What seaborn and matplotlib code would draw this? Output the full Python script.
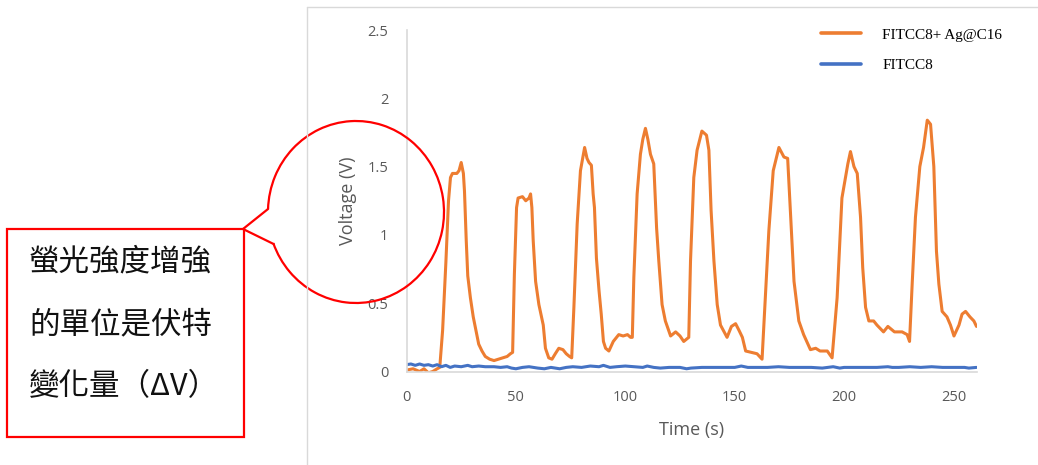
import numpy as np
import pandas as pd
import matplotlib
matplotlib.use("Agg")
import matplotlib.pyplot as plt
import seaborn as sns
from matplotlib.patches import Arc, Rectangle
from matplotlib.lines import Line2D
from matplotlib.ticker import FuncFormatter

# ---- data -------------------------------------------------------------
series_labels = ["FITCC8+ Ag@C16", "FITCC8"]
series_colors = ["#ED7D31", "#4472C4"]

time_ag = [0, 3, 6, 8, 10, 12, 14, 15.2, 16.5, 18, 19.2, 20.1, 21, 23, 24, 25, 26,
           26.5, 27.3, 28, 29.2, 30.5, 31.5, 33, 34.5, 36, 38, 40, 42, 44, 46, 47.5,
           48.5, 49.3, 50.3, 51, 53, 54.5, 56, 56.7, 57.3, 57.9, 59, 60.5, 62.5, 63.5,
           65, 66.5, 68, 69.6, 71.5, 73, 74.5, 75.5, 76.5, 78, 79.5, 81.4, 82.5, 83.4,
           84.5, 85.3, 85.9, 86.8, 88, 89, 90, 91, 92.5, 94.5, 97, 99, 101, 102.4,
           103.2, 103.9, 105.4, 106.9, 108, 109.2, 110.3, 111.5, 113, 113.6, 114.3,
           115.3, 116.8, 118.3, 120.7, 123, 125, 126.7, 129, 129.8, 131.3, 132.8, 135,
           137.1, 138.2, 139.2, 140.5, 142, 143.5, 146.5, 148.5, 150.4, 152, 153.5,
           155, 157.5, 160.2, 162.5, 163.6, 165.6, 167.6, 170.2, 172.5, 174.2, 175.5,
           177.1, 179.3, 181.5, 184.6, 187, 189, 192.3, 194.5, 196.8, 199, 200.6,
           201.7, 202.9, 204.5, 206, 207.5, 208.5, 209.8, 211.3, 213.5, 215, 218, 220,
           223, 226.5, 228.8, 229.9, 231.1, 232.6, 234.6, 236.3, 238, 239.5, 241,
           242.2, 243.3, 244.8, 247, 248.6, 250.2, 252.5, 253.9, 255.5, 257.5, 259.3,
           260.5]
voltage_ag = [0.01, 0.02, 0.0, 0.02, -0.01, 0.0, 0.02, 0.03, 0.3, 0.8, 1.25, 1.42,
              1.45, 1.45, 1.47, 1.53, 1.45, 1.32, 0.96, 0.7, 0.54, 0.40, 0.32, 0.20,
              0.15, 0.11, 0.09, 0.08, 0.09, 0.10, 0.11, 0.13, 0.14, 0.71, 1.2, 1.27,
              1.28, 1.25, 1.27, 1.30, 1.2, 0.96, 0.66, 0.49, 0.34, 0.17, 0.10, 0.09,
              0.13, 0.17, 0.16, 0.13, 0.11, 0.10, 0.47, 1.08, 1.47, 1.64, 1.56, 1.53,
              1.51, 1.3, 1.20, 0.83, 0.59, 0.42, 0.22, 0.17, 0.15, 0.22, 0.27, 0.26,
              0.27, 0.25, 0.25, 0.69, 1.30, 1.59, 1.70, 1.78, 1.70, 1.59, 1.52, 1.3,
              1.05, 0.81, 0.49, 0.37, 0.26, 0.29, 0.26, 0.22, 0.25, 0.81, 1.42, 1.62,
              1.76, 1.73, 1.62, 1.18, 0.81, 0.49, 0.34, 0.25, 0.33, 0.35, 0.30, 0.25,
              0.15, 0.14, 0.13, 0.09, 0.42, 1.03, 1.47, 1.64, 1.57, 1.56, 1.15, 0.66,
              0.37, 0.27, 0.16, 0.17, 0.15, 0.15, 0.10, 0.54, 1.27, 1.42, 1.52, 1.61,
              1.50, 1.45, 1.13, 0.76, 0.47, 0.37, 0.37, 0.34, 0.29, 0.33, 0.29, 0.29,
              0.27, 0.22, 0.64, 1.13, 1.50, 1.64, 1.84, 1.81, 1.50, 0.88, 0.64, 0.44,
              0.40, 0.34, 0.26, 0.34, 0.42, 0.44, 0.40, 0.37, 0.33]

time_ctrl = [0, 2, 4, 6, 8, 10, 12, 14, 16, 18, 20, 22, 25, 28, 30, 33, 36, 40, 43,
             46, 48, 50, 53, 56, 58, 60, 63, 66, 68, 70, 73, 76, 80, 84, 88, 90, 93,
             96, 100, 104, 108, 110, 113, 116, 120, 125, 128, 130, 135, 140, 145, 150,
             153, 156, 160, 165, 170, 175, 180, 185, 190, 195, 198, 200, 205, 210,
             215, 220, 222, 225, 230, 235, 240, 245, 250, 255, 257, 260.5]
voltage_ctrl = [0.05, 0.055, 0.045, 0.055, 0.045, 0.05, 0.04, 0.05, 0.035, 0.045,
                0.03, 0.04, 0.035, 0.045, 0.035, 0.04, 0.035, 0.035, 0.03, 0.035,
                0.025, 0.02, 0.03, 0.035, 0.03, 0.025, 0.02, 0.03, 0.025, 0.02,
                0.03, 0.035, 0.03, 0.04, 0.035, 0.045, 0.03, 0.035, 0.04, 0.035,
                0.03, 0.04, 0.03, 0.025, 0.03, 0.03, 0.02, 0.025, 0.03, 0.03, 0.03,
                0.03, 0.04, 0.03, 0.03, 0.03, 0.035, 0.03, 0.03, 0.03, 0.025,
                0.035, 0.025, 0.03, 0.03, 0.03, 0.03, 0.035, 0.03, 0.03, 0.035,
                0.03, 0.035, 0.03, 0.03, 0.03, 0.025, 0.03]

y_ticks = [0, 0.5, 1, 1.5, 2, 2.5]
x_ticks = [0, 50, 100, 150, 200, 250]

note_lines = ["螢光強度增強", "的單位是伏特", "變化量（ΔV）"]

# ---- figure -----------------------------------------------------------
sns.set_theme(style="white")
plt.rcParams["font.family"] = ["Open Sans", "DejaVu Sans"]

W, H = 1038, 465
fig = plt.figure(figsize=(W / 100, H / 100), dpi=100)
fig.patch.set_facecolor("white")

x0, x1, y_top, y_bot = 406.5, 976.5, 30, 371.5
ax = fig.add_axes([x0 / W, 1 - y_bot / H, (x1 - x0) / W, (y_bot - y_top) / H])

df = pd.concat([
    pd.DataFrame({"Time": time_ag, "Voltage": voltage_ag, "Series": series_labels[0]}),
    pd.DataFrame({"Time": time_ctrl, "Voltage": voltage_ctrl, "Series": series_labels[1]}),
])
sns.lineplot(data=df, x="Time", y="Voltage", hue="Series", hue_order=series_labels,
             palette=series_colors, linewidth=2.2, estimator=None, sort=False, ax=ax)

ax.set_xlim(0, 260.5)
ax.set_ylim(0, 2.5)
ax.set_xticks(x_ticks)
ax.set_yticks(y_ticks)
ax.yaxis.set_major_formatter(FuncFormatter(lambda v, _: f"{v:g}"))
ax.tick_params(axis="both", length=0, labelsize=10.5, labelcolor="#595959", pad=13)
for side in ("top", "right"):
    ax.spines[side].set_visible(False)
for side in ("left", "bottom"):
    ax.spines[side].set_color("#d9d9d9")
    ax.spines[side].set_linewidth(1.2)
ax.grid(False)

ax.set_xlabel("Time (s)", fontsize=13, color="#595959", va="center")
ax.xaxis.set_label_coords(0.5, (y_bot - 430) / (y_bot - y_top))
ax.set_ylabel("Voltage (V)", fontsize=13, color="#595959", va="center")
ax.yaxis.set_label_coords((348 - x0) / (x1 - x0), 0.5)

handles = [Line2D([], [], color=c, lw=2.6) for c in series_colors]
leg = ax.legend(handles, series_labels, loc="upper left", frameon=False,
                bbox_to_anchor=((815 - x0) / (x1 - x0), (y_bot - 22) / (y_bot - y_top)),
                prop={"family": "Liberation Serif", "size": 11},
                handlelength=2.6, handletextpad=1.4, labelspacing=1.1, borderaxespad=0)
for t in leg.get_texts():
    t.set_color("black")

# ---- overlay in pixel coordinates: frame and callout -----------------
ov = fig.add_axes([0, 0, 1, 1], zorder=10)
ov.set_xlim(0, W)
ov.set_ylim(H, 0)
ov.axis("off")
ov.patch.set_alpha(0)

# chart area frame
ov.plot([307, 307], [7, H + 2], color="#d9d9d9", lw=1)
ov.plot([307, W + 2], [7, 7], color="#d9d9d9", lw=1)

red = "#FF0000"
# text box
ov.add_patch(Rectangle((7, 229), 237, 208, fill=False, edgecolor=red, lw=1.6))
for i, line in enumerate(note_lines):
    ov.text(29, 262 + i * 62.5, line, ha="left", va="center", fontsize=22,
            color="#111111", family=["Noto Sans CJK TC", "DejaVu Sans"])

# speech bubble: ellipse with a gap where the pointer attaches
cx, cy, a, b = 356, 212, 88, 91
t_top, t_bot = 181.9, 159.4
ov.add_patch(Arc((cx, cy), 2 * a, 2 * b, theta1=t_top, theta2=t_bot + 360,
                 edgecolor=red, lw=1.6))
p_top = (cx + a * np.cos(np.radians(t_top)), cy + b * np.sin(np.radians(t_top)))
p_bot = (cx + a * np.cos(np.radians(t_bot)), cy + b * np.sin(np.radians(t_bot)))
tip = (243, 229)
ov.plot([p_top[0], tip[0], p_bot[0]], [p_top[1], tip[1], p_bot[1]],
        color=red, lw=1.6, solid_joinstyle="miter")

fig.savefig("out.png", dpi=100)
